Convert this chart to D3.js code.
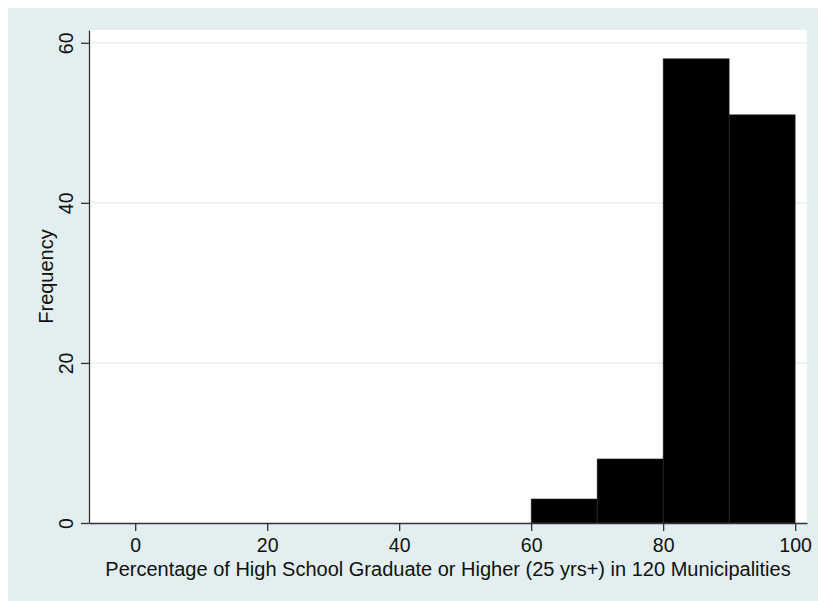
<!DOCTYPE html>
<html>
<head>
<meta charset="utf-8">
<script src="https://cdn.jsdelivr.net/npm/d3@7"></script>
<style>
  body { margin: 0; background: #fff; }
  svg { display: block; font-family: "Liberation Sans", Arial, sans-serif; }
</style>
</head>
<body>
<div id="chart"></div>
<script>
// histogram bins (lower edge, upper edge) and counts
var binStart = [60, 70, 80, 90];
var binEnd = [70, 80, 90, 100];
var counts = [3, 8, 58, 51];
var xTicks = [0, 20, 40, 60, 80, 100];
var yTicks = [0, 20, 40, 60];

var width = 818, height = 601;
var svg = d3.select("#chart").append("svg")
  .attr("width", width).attr("height", height);

// outer graph region
svg.append("rect")
  .attr("x", 8).attr("y", 8)
  .attr("width", width - 8).attr("height", height - 8)
  .attr("fill", "#e2eef0");

var plot = {left: 89, right: 807, top: 30, bottom: 523};

var x = d3.scaleLinear().domain([-7, 101.8]).range([plot.left, plot.right]);
var y = d3.scaleLinear().domain([0, 61.6]).range([plot.bottom, plot.top]);

svg.append("rect")
  .attr("x", plot.left).attr("y", plot.top)
  .attr("width", plot.right - plot.left).attr("height", plot.bottom - plot.top)
  .attr("fill", "#fff");

// gridlines
svg.append("g").selectAll("line")
  .data(yTicks.filter(function(d) { return d > 0; }))
  .enter().append("line")
  .attr("x1", plot.left).attr("x2", plot.right)
  .attr("y1", function(d) { return y(d); })
  .attr("y2", function(d) { return y(d); })
  .attr("stroke", "#e6eff1")
  .attr("stroke-width", 1.5);

// bars
svg.append("g").selectAll("rect")
  .data(counts)
  .enter().append("rect")
  .attr("x", function(d, i) { return x(binStart[i]); })
  .attr("width", function(d, i) { return x(binEnd[i]) - x(binStart[i]); })
  .attr("y", function(d) { return y(d); })
  .attr("height", function(d) { return y(0) - y(d); })
  .attr("fill", "#000")
  .attr("stroke", "#2a2a2a")
  .attr("stroke-width", 0.6);

// x axis
var xAxis = svg.append("g")
  .attr("transform", "translate(0," + plot.bottom + ")")
  .call(d3.axisBottom(x).tickValues(xTicks).tickSize(8).tickPadding(7).tickSizeOuter(0));
xAxis.select(".domain").attr("stroke", "#333").attr("stroke-width", 1.3);
xAxis.selectAll(".tick line").attr("stroke", "#333").attr("stroke-width", 1.3);
xAxis.selectAll("text").attr("font-size", 19.5).attr("fill", "#111");

// y axis
var yAxis = svg.append("g")
  .attr("transform", "translate(" + plot.left + ",0)")
  .call(d3.axisLeft(y).tickValues(yTicks).tickSize(8).tickPadding(6).tickSizeOuter(0));
yAxis.select(".domain").attr("stroke", "#333").attr("stroke-width", 1.3);
yAxis.selectAll(".tick line").attr("stroke", "#333").attr("stroke-width", 1.3);
yAxis.selectAll("text")
  .attr("font-size", 19.5).attr("fill", "#111")
  .attr("x", null).attr("dy", null)
  .attr("text-anchor", "middle")
  .attr("transform", "translate(-16,0) rotate(-90)")
  .attr("y", 0);

// axis titles
svg.append("text")
  .attr("x", (plot.left + plot.right) / 2)
  .attr("y", 576)
  .attr("text-anchor", "middle")
  .attr("font-size", 20)
  .attr("fill", "#111")
  .text("Percentage of High School Graduate or Higher (25 yrs+) in 120 Municipalities");

svg.append("text")
  .attr("transform", "translate(53," + (plot.top + plot.bottom) / 2 + ") rotate(-90)")
  .attr("text-anchor", "middle")
  .attr("font-size", 20)
  .attr("fill", "#111")
  .text("Frequency");
</script>
</body>
</html>
